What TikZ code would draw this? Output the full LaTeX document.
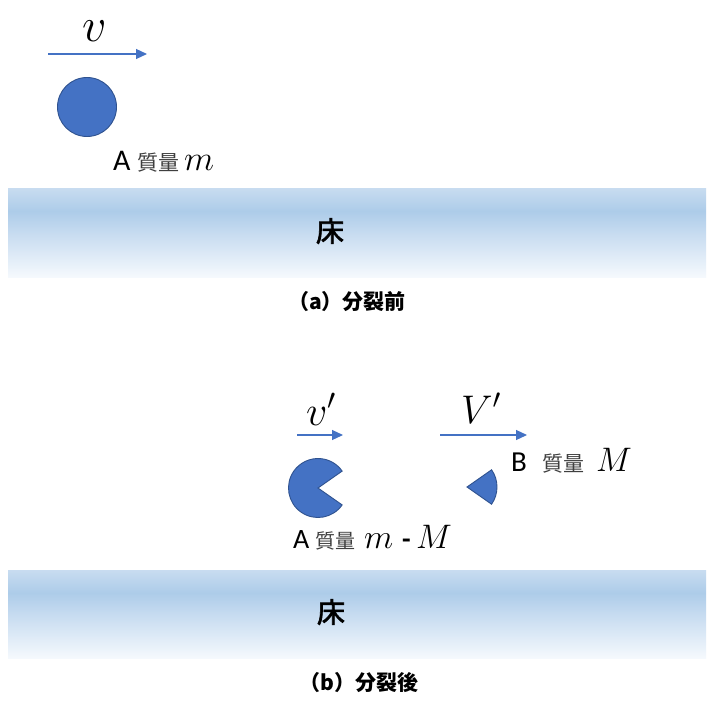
\RequirePackage{fix-cm}
\documentclass[tikz,border=0pt]{standalone}
\usepackage{fontspec}
\newfontfamily\cjk{Noto Sans CJK JP}
\newfontfamily\cjkfb[FakeBold=2.5]{Noto Sans CJK JP}
\newfontfamily\lat{Carlito}
\usetikzlibrary{arrows.meta}
\definecolor{ablue}{HTML}{4472C4}
\definecolor{aedge}{HTML}{2F528F}
\definecolor{ftop}{HTML}{C8DCF0}
\definecolor{fpeak}{HTML}{ADCCE9}
\definecolor{fmid}{HTML}{C6DBF0}
\definecolor{fbot}{HTML}{F5F9FD}
\definecolor{mgray}{HTML}{3F3F3F}
\pgfdeclareverticalshading{floorshade}{100bp}{color(0bp)=(fbot); color(25bp)=(fbot); color(50bp)=(fmid); color(62bp)=(fpeak); color(75bp)=(ftop); color(100bp)=(ftop)}
\tikzset{
  vel/.style={draw=ablue, line width=1.2pt, -{Triangle[length=11pt,width=10pt]}},
  ball/.style={fill=ablue, draw=aedge, line width=0.9pt},
  floorbox/.style={shading=floorshade},
  lbl/.style={inner sep=0pt, outer sep=0pt, anchor=base west},
}
\begin{document}
\begin{tikzpicture}[x=1pt,y=-1pt]
\useasboundingbox[fill=white] (0,0) rectangle (715,706);
% ---------- (a) ----------
\coordinate (vs) at (48,54);
\coordinate (ve) at (147,54);
\draw[vel] (vs) -- (ve);
\node[lbl] (vlab) at (82,42) {\fontsize{48}{48}\selectfont $v$};
\draw[ball] (87,107) circle[radius=29.5];
\node[lbl] (aA) at (113,171) {\fontsize{30}{30}\selectfont\lat A};
\node[lbl] (aQ) at (137,171) {\fontsize{21}{21}\selectfont\cjk\color{mgray}質量};
\node[lbl] (am) at (184,171) {\fontsize{35}{35}\selectfont $m$};
\shade[floorbox] (8,188) rectangle (706,277);
\node[inner sep=0pt] (floorA) at (330,231) {\fontsize{28}{28}\selectfont\cjkfb 床};
\node[inner sep=0pt, anchor=east] (capA) at (406,302) {\fontsize{21}{21}\selectfont\cjk\bfseries （a）分裂前};
% ---------- (b) ----------
\coordinate (v1s) at (297,435);
\coordinate (v1e) at (343,435);
\draw[vel] (v1s) -- (v1e);
\node[lbl] (v1lab) at (306,425) {\fontsize{42}{42}\selectfont $v'$};
\coordinate (V1s) at (440,435);
\coordinate (V1e) at (527,435);
\draw[vel] (V1s) -- (V1e);
\node[lbl] (V1lab) at (461,423) {\fontsize{40}{40}\selectfont $V'$};
\draw[ball] (318,488) -- ++(35:29.5) arc[start angle=35, end angle=325, radius=29.5] -- cycle;
\draw[ball] (467,487) -- ++(-35:30) arc[start angle=-35, end angle=35, radius=30] -- cycle;
\node[lbl] (bB) at (511,471) {\fontsize{29}{29}\selectfont\lat B};
\node[lbl] (bQ) at (542,471) {\fontsize{21}{21}\selectfont\cjk\color{mgray}質量};
\node[lbl] (bM) at (596,471) {\fontsize{34}{34}\selectfont $M$};
\node[lbl] (cA) at (293,548) {\fontsize{28}{28}\selectfont\lat A};
\node[lbl] (cQ) at (315,548) {\fontsize{20}{20}\selectfont\cjk\color{mgray}質量};
\node[lbl] (cm) at (364,548) {\fontsize{34}{34}\selectfont $m$};
\node[lbl] (cd) at (402,548) {\fontsize{28}{28}\selectfont\lat\bfseries -};
\node[lbl] (cM) at (416,548) {\fontsize{34}{34}\selectfont $M$};
\shade[floorbox] (8,570) rectangle (706,658);
\node[inner sep=0pt] (floorB) at (331,612) {\fontsize{28}{28}\selectfont\cjkfb 床};
\node[inner sep=0pt, anchor=east] (capB) at (419,683) {\fontsize{21}{21}\selectfont\cjk\bfseries （b）分裂後};
\end{tikzpicture}
\end{document}
